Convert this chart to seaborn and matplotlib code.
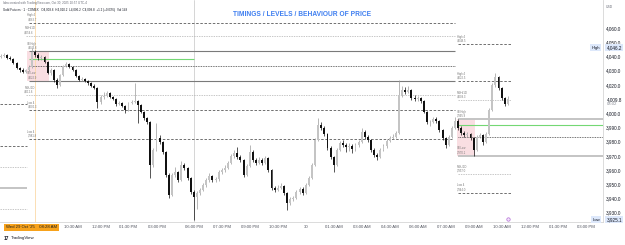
# Gold futures intraday chart - timings / levels / behaviour of price
import numpy as np
import pandas as pd
import matplotlib
matplotlib.use("Agg")
import matplotlib.pyplot as plt
import matplotlib.transforms as mtransforms
import seaborn as sns

# 10 minute bars: Wed session 06:40 AM - 04:50 PM, then 06:00 PM - Thu 10:50 AM
session1 = pd.date_range("2025-10-29 06:40", "2025-10-29 16:50", freq="10min")
session2 = pd.date_range("2025-10-29 18:00", "2025-10-30 10:50", freq="10min")
future = pd.date_range("2025-10-30 11:00", periods=40, freq="10min")

first_open = 4039.5
closes = [
    4040.3, 4041.0, 4039.0, 4038.5, 4035.4, 4031.8, 4030.4, 4029.0, 4030.4, 4032.5,
    4043.1, 4041.0, 4038.9, 4039.6, 4036.0, 4028.3, 4030.4, 4023.4, 4019.9, 4026.9,
    4033.2, 4034.7, 4032.5, 4030.4, 4026.2, 4023.4, 4024.1, 4022.7, 4021.3, 4019.2,
    4017.8, 4007.9, 4011.4, 4012.1, 4014.2, 4011.4, 4010.0, 4006.5, 4007.2, 4005.1,
    4002.3, 4007.2, 4007.9, 4008.6, 4005.8, 4000.9, 3996.6, 3993.8, 3963.6, 3974.1,
    3982.6, 3979.7, 3972.7, 3956.5, 3942.4, 3956.5, 3958.6, 3953.0, 3963.6, 3961.4,
    3954.4, 3944.5,
    3941.0, 3943.8, 3946.0, 3949.5, 3953.0, 3955.8, 3953.0, 3953.7, 3958.6, 3960.0,
    3961.4, 3965.0, 3969.9, 3972.0, 3969.2, 3967.1, 3956.5, 3962.8, 3972.7, 3967.1,
    3965.0, 3967.1, 3965.0, 3968.5, 3960.0, 3947.4, 3946.0, 3947.4, 3948.8, 3943.8,
    3936.8, 3939.6, 3940.3, 3944.5, 3946.7, 3943.8, 3949.5, 3954.4, 3963.6, 3981.2,
    3991.7, 3989.6, 3985.4, 3975.5, 3969.2, 3963.6, 3974.1, 3979.0, 3977.6, 3976.2,
    3976.9, 3974.8, 3977.6, 3979.7, 3986.8, 3983.3, 3981.2, 3974.1, 3970.6, 3969.2,
    3974.1, 3976.9, 3980.5, 3982.6, 3983.3, 3986.1, 4012.8, 4016.4, 4015.0, 4016.4,
    4010.7, 4010.0, 4010.7, 4008.6, 4000.9, 3993.8, 3993.8, 3995.9, 3994.5, 3988.2,
    3982.6, 3977.6, 3983.3, 3989.6, 3994.5, 3989.6, 3986.1, 3984.7, 3985.4, 3982.6,
    3974.1, 3983.3, 3984.7, 3979.7, 3985.4, 4002.3, 4019.9, 4025.5, 4017.8, 4010.7,
    4006.5, 4009.8,
]
highs = [
    4041.5, 4042.2, 4041.8, 4040.1, 4039.2, 4036.1, 4032.6, 4031.5, 4031.3, 4033.6,
    4046.2, 4044.6, 4042.3, 4041.2, 4040.5, 4036.8, 4031.6, 4031.1, 4024.5, 4027.8,
    4034.1, 4035.8, 4035.5, 4033.3, 4031.2, 4027.0, 4025.3, 4025.0, 4023.6, 4022.1,
    4020.4, 4018.5, 4012.6, 4014.7, 4015.3, 4015.0, 4012.3, 4010.8, 4008.6, 4008.0,
    4006.0, 4008.1, 4009.0, 4021.3, 4009.5, 4006.7, 4001.8, 3997.5, 3994.6, 3975.4,
    3993.1, 3984.5, 3980.6, 3973.5, 3957.6, 3958.2, 3962.1, 3959.5, 3966.4, 3965.2,
    3962.3, 3955.2,
    3946.0, 3945.0, 3947.3, 3951.2, 3954.3, 3957.6, 3956.7, 3955.4, 3959.8, 3961.5,
    3963.2, 3966.1, 3971.2, 3973.9, 3976.2, 3970.5, 3968.0, 3964.1, 3977.6, 3973.8,
    3968.3, 3968.9, 3968.2, 3970.2, 3969.4, 3960.9, 3948.9, 3949.6, 3951.0, 3949.7,
    3944.6, 3941.2, 3941.8, 3945.7, 3948.3, 3947.8, 3950.8, 3955.7, 3965.0, 3982.5,
    3996.6, 3993.5, 3990.8, 3986.3, 3976.7, 3970.1, 3975.3, 3980.6, 3981.2, 3979.0,
    3978.8, 3978.0, 3979.3, 3981.1, 3989.6, 3987.9, 3984.6, 3982.0, 3975.2, 3971.8,
    3975.3, 3978.2, 3981.6, 3983.9, 3985.1, 3987.4, 4023.4, 4019.5, 4018.3, 4018.8,
    4017.3, 4012.5, 4012.2, 4011.6, 4009.5, 4001.7, 3995.4, 3997.3, 3997.2, 3995.3,
    3989.1, 3983.4, 3984.6, 3990.8, 3997.4, 3995.6, 3990.9, 3987.5, 3986.9, 3986.4,
    3983.5, 3984.5, 3986.1, 3985.5, 3986.7, 4003.6, 4021.2, 4028.3, 4026.4, 4018.6,
    4011.5, 4012.1,
]
lows = [
    4038.6, 4039.4, 4038.2, 4037.4, 4034.6, 4030.9, 4029.3, 4028.2, 4028.1, 4029.7,
    4031.9, 4039.8, 4037.6, 4037.8, 4035.1, 4027.4, 4026.9, 4022.1, 4017.8, 4019.1,
    4026.2, 4032.4, 4031.6, 4029.5, 4025.3, 4022.5, 4022.6, 4021.8, 4020.2, 4018.3,
    4016.7, 4003.7, 4006.8, 4010.3, 4011.2, 4010.5, 4009.1, 4005.4, 4005.5, 4004.2,
    3999.9, 4001.6, 4006.3, 4006.9, 3993.1, 3999.8, 3995.4, 3992.6, 3954.4, 3961.8,
    3973.2, 3978.3, 3971.4, 3954.8, 3940.3, 3941.5, 3955.4, 3951.8, 3952.1, 3959.8,
    3953.1, 3943.2,
    3925.1, 3932.7, 3942.5, 3945.1, 3948.2, 3951.9, 3951.7, 3951.8, 3952.6, 3957.3,
    3958.9, 3960.5, 3964.1, 3968.7, 3968.1, 3965.8, 3955.2, 3955.6, 3961.9, 3965.9,
    3963.7, 3964.1, 3963.8, 3964.2, 3958.8, 3946.1, 3944.8, 3945.1, 3946.3, 3942.5,
    3931.9, 3935.5, 3938.4, 3939.3, 3943.4, 3942.6, 3942.9, 3948.6, 3953.5, 3962.8,
    3980.1, 3988.3, 3984.2, 3974.4, 3968.0, 3958.6, 3962.7, 3973.2, 3976.4, 3972.8,
    3973.5, 3971.9, 3973.6, 3976.5, 3978.9, 3982.1, 3979.9, 3972.9, 3969.3, 3967.1,
    3968.4, 3973.2, 3975.8, 3979.4, 3981.5, 3982.2, 3985.2, 4011.6, 4013.8, 4013.9,
    4009.4, 4008.6, 4008.9, 4007.3, 3999.8, 3992.6, 3991.2, 3992.9, 3993.1, 3986.9,
    3981.4, 3975.8, 3976.7, 3982.4, 3988.7, 3988.3, 3984.8, 3983.4, 3983.5, 3981.1,
    3969.9, 3973.3, 3982.2, 3977.9, 3978.8, 3984.6, 4001.5, 4018.7, 4016.5, 4009.2,
    4004.9, 4005.6,
]

# key levels: price, start time, end time (None = chart edge), style, tag
level_prices = [4006.3, 3976.9, 3962.3, 3947.5, 3932.7,
                4063.7, 4054.6, 4043.8, 4038.0, 4033.2, 4022.9, 4012.6, 4002.3, 3981.8,
                4048.5, 4022.5, 4009.3, 3995.9, 3991.5, 3983.0, 3970.1, 3957.0, 3944.0]
level_start = [None, None, None, None, None,
               "2025-10-29 08:10", "2025-10-29 08:00", "2025-10-29 08:10", "2025-10-29 08:10",
               "2025-10-29 08:10", "2025-10-29 08:10", "2025-10-29 08:00", "2025-10-29 08:10",
               "2025-10-29 08:10",
               "2025-10-30 08:10", "2025-10-30 08:10", "2025-10-30 08:10", "2025-10-30 08:10",
               "2025-10-30 08:10", "2025-10-30 08:10", "2025-10-30 08:10", "2025-10-30 08:10",
               "2025-10-30 08:10"]
level_end = ["2025-10-29 08:05"] * 5 + \
            ["2025-10-30 08:00", "2025-10-30 08:00", "2025-10-30 08:00", "2025-10-29 18:00",
             "2025-10-30 08:00", "2025-10-30 08:00", "2025-10-30 08:00", "2025-10-30 08:00",
             "2025-10-30 07:50"] + \
            ["2025-10-30 11:00", "2025-10-30 11:00", "2025-10-30 11:00", None,
             None, None, None, "2025-10-30 11:00", "2025-10-30 11:00"]
level_style = ["dash", "dash", "light", "solid_light", "light",
               "dash", "light", "solid", "green", "dot", "solid", "light", "dash", "dash",
               "dash", "dash", "light", "solid_light", "green", "dot", "solid_light", "light", "dash"]
level_tag = ["", "", "", "", "",
             "High 4", "PWH/1D", "IB High", "", "", "IB Low", "PWL/1D", "Low 4", "Low 4",
             "High 4", "High 4", "PWH/1D", "IB High", "", "", "IB Low", "PWL/1D", "Low 4"]

# opening range boxes
box_start = ["2025-10-29 08:10", "2025-10-30 08:10"]
box_end = ["2025-10-29 09:10", "2025-10-30 09:00"]
box_top = [4043.8, 3995.9]
box_bottom = [4022.9, 3970.1]

marker_time = "2025-10-29 08:28"
session_open = "2025-10-29 18:00"
price_ticks = [3930, 3940, 3950, 3960, 3970, 3980, 3990, 4000, 4020, 4030, 4040, 4050, 4060]
tick_times = ["2025-10-29 10:30", "2025-10-29 12:00", "2025-10-29 13:30", "2025-10-29 15:00",
              "2025-10-29 18:00", "2025-10-29 19:30", "2025-10-29 21:00", "2025-10-29 22:30",
              "2025-10-30 00:00", "2025-10-30 01:30", "2025-10-30 03:00", "2025-10-30 04:30",
              "2025-10-30 06:00", "2025-10-30 07:30", "2025-10-30 09:00", "2025-10-30 10:30",
              "2025-10-30 12:00", "2025-10-30 13:30", "2025-10-30 15:00"]

sns.set_theme(style="white")
plt.rcParams['font.family'] = ['Liberation Sans', 'DejaVu Sans']

all_times = session1.append(session2).append(future)
tnum = all_times.asi8


def pos_of(t):
    return float(np.interp(pd.Timestamp(t).value, tnum, np.arange(len(all_times))))


df = pd.DataFrame({"close": closes, "high": highs, "low": lows})
df["open"] = df["close"].shift(1).fillna(first_open)
df["pos"] = np.arange(len(df))
up = df["close"] >= df["open"]

fig = plt.figure(figsize=(6.25, 2.45), dpi=100)
ax = fig.add_axes([0, 23 / 245, 603 / 625, 222 / 245])
xlim = (-0.32, 193.6)
ax.set_xlim(*xlim)
ax.set_ylim(3923.4, 4079.7)

# boxes
for s, e, t, b in zip(box_start, box_end, box_top, box_bottom):
    ax.fill_between([pos_of(s) - 0.5, pos_of(e) + 0.5], b, t, color='#f6c9cf', alpha=0.6, lw=0, zorder=1)

styles = {
    "dash": dict(color='#5a5a5a', lw=0.6, ls=(0, (3, 2))),
    "light": dict(color='#b0b0b0', lw=0.5, ls=(0, (2, 1.5))),
    "solid": dict(color='#7a7a7a', lw=0.8, ls='-'),
    "solid_light": dict(color='#c4c4c4', lw=1.4, ls='-'),
    "green": dict(color='#74d874', lw=0.8, ls='-'),
    "dot": dict(color='#444444', lw=0.6, ls=(0, (1, 1))),
}
for p, s, e, st, tag in zip(level_prices, level_start, level_end, level_style, level_tag):
    x0 = xlim[0] if s is None else pos_of(s)
    x1 = xlim[1] if e is None else pos_of(e)
    ax.hlines(p, x0, x1, zorder=2, **styles[st])
    if tag:
        ax.text(x0 - 0.5, p + 1.0, f"{tag}\n{p:,.1f}", fontsize=2.0, color='#777777',
                va='bottom', ha='left', linespacing=1.0, zorder=3)

# session separator and date marker
ax.axvline(pos_of(session_open), color='#cfcfcf', lw=0.6, zorder=1)
ax.axvline(pos_of(marker_time), color='#fbd9a8', lw=0.6, zorder=1)

# candles
wick_col = np.where(up, '#9a9a9a', '#111111')
body_col = np.where(up, '#c4c4c4', '#111111')
ax.vlines(df["pos"], df["low"], df["high"], colors=wick_col, lw=0.5, zorder=4)
body = (df["close"] - df["open"]).abs().clip(lower=0.35)
ax.bar(df["pos"], body, bottom=df[["open", "close"]].min(axis=1), width=0.62,
       color=body_col, lw=0, zorder=5)

# axes look
for side in ["top", "left"]:
    ax.spines[side].set_visible(False)
for side in ["right", "bottom"]:
    ax.spines[side].set_color('#d6d6d6')
    ax.spines[side].set_linewidth(0.6)
ax.yaxis.tick_right()
ax.set_yticks(price_ticks)
ax.set_yticklabels([f"{v:,.1f}" for v in price_ticks])
ax.tick_params(axis='y', length=0, pad=2, labelsize=3.3, labelcolor='#131722')
tick_pos = [pos_of(t) for t in tick_times]
tick_lab = [pd.Timestamp(t).strftime("%d").lstrip("0") if pd.Timestamp(t).hour == 0 and pd.Timestamp(t).minute == 0
            else pd.Timestamp(t).strftime("%I:%M %p") for t in tick_times]
ax.set_xticks(tick_pos)
ax.set_xticklabels(tick_lab)
ax.tick_params(axis='x', length=0, pad=2.2, labelsize=3.1, labelcolor='#50535e')
ax.grid(False)

trans = mtransforms.blended_transform_factory(ax.transData, ax.transAxes)
ax.text(pos_of(marker_time) - 1, -0.024, "Wed 29 Oct '25    08:28 AM", transform=trans, fontsize=3.1,
        ha='center', va='center', color='#1e1e1e',
        bbox=dict(boxstyle='square,pad=0.35', fc='#f7a21b', ec='none'))

# right side tags
last = closes[-1]
ax.text(1.006, last, f"{last:,.1f}", transform=ax.get_yaxis_transform(), fontsize=3.3,
        va='center', ha='left', color='#131722')
ax.text(1.006, last - 3.6, "03:02", transform=ax.get_yaxis_transform(), fontsize=3.1,
        va='center', ha='left', color='#8a8d96')
hi, lo = max(highs), min(lows)
for val, name in [(hi, "High"), (lo, "Low")]:
    ax.text(1.006, val, f"{val:,.1f}", transform=ax.get_yaxis_transform(), fontsize=3.3,
            va='center', ha='left', color='#131722',
            bbox=dict(boxstyle='square,pad=0.3', fc='#dde8fb', ec='none'))
    ax.text(0.995, val, name, transform=ax.get_yaxis_transform(), fontsize=3.1,
            va='center', ha='right', color='#131722',
            bbox=dict(boxstyle='square,pad=0.3', fc='#dde8fb', ec='none'))
ax.scatter([df["pos"].iloc[-1]], [0.012], transform=trans, s=6, facecolor='#f3e6fb',
           edgecolor='#b36ad6', lw=0.5, zorder=6, clip_on=False)

# header / footer text
fig.text(302 / 625, 1 - 14 / 245, "TIMINGS / LEVELS / BEHAVIOUR OF PRICE", fontsize=4.8,
         weight='bold', color='#3f7ff0', ha='center', va='center')
fig.text(3 / 625, 1 - 3 / 245, "Idea created with TradingView.com, Oct 30, 2025 10:57 UTC-4",
         fontsize=2.2, color='#6a6d78', ha='left', va='center')
fig.text(3 / 625, 1 - 10 / 245,
         "Gold Futures \u00b7 1 \u00b7 COMEX   O4,008.6  H4,010.2  L4,006.2  C4,009.8  +1.2 (+0.03%)  Vol 148",
         fontsize=2.2, color='#131722', ha='left', va='center')
fig.text(606 / 625, 1 - 7 / 245, "USD", fontsize=2.4, color='#6a6d78', ha='left', va='center')
fig.text(4 / 625, 1 - 238 / 245, "17", fontsize=3.4, weight='bold', color='#131722', ha='left', va='center')
fig.text(11 / 625, 1 - 238 / 245, "TradingView", fontsize=3.2, color='#131722', ha='left', va='center')

fig.savefig("out.png", dpi=100)
